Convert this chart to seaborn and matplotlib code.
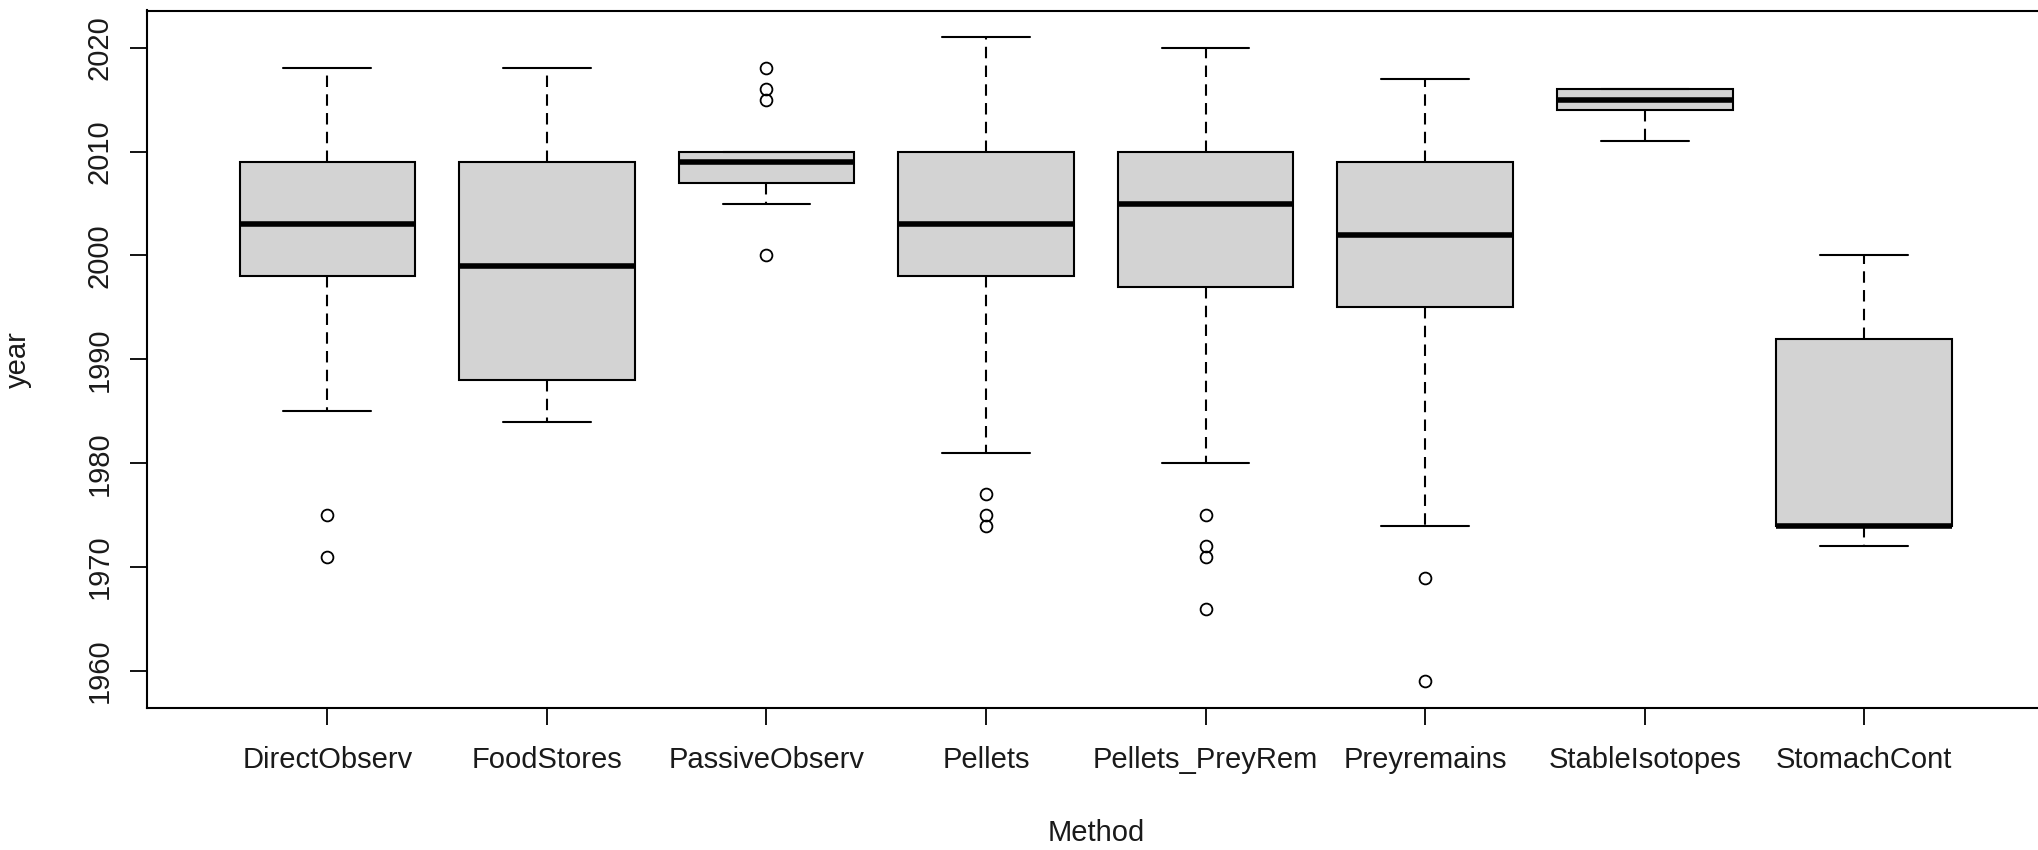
import numpy as np
import pandas as pd
import matplotlib
matplotlib.use("Agg")
import matplotlib.pyplot as plt
import seaborn as sns

# Five-number summaries (years) per diet-study method, plus the points beyond the whiskers
methods = ["DirectObserv", "FoodStores", "PassiveObserv", "Pellets",
           "Pellets_PreyRem", "Preyremains", "StableIsotopes", "StomachCont"]
whisker_low = [1985, 1984, 2005, 1981, 1980, 1974, 2011, 1972]
lower_quartile = [1998, 1988, 2007, 1998, 1997, 1995, 2014, 1974]
median_year = [2003, 1999, 2009, 2003, 2005, 2002, 2015, 1974]
upper_quartile = [2009, 2009, 2010, 2010, 2010, 2009, 2016, 1992]
whisker_high = [2018, 2018, 2010, 2021, 2020, 2017, 2016, 2000]
outliers = [[1971, 1975], [], [2000, 2015, 2016, 2018], [1974, 1975, 1977],
            [1966, 1971, 1972, 1975], [1959, 1969], [], []]
y_ticks = [1960, 1970, 1980, 1990, 2000, 2010, 2020]


def years_for(lo, q1, med, q3, hi, extra):
    """Expand a five-number summary into a sample whose quartiles,
    whiskers and outliers are exactly these values (n = 4m + 1)."""
    below = sorted(v for v in extra if v < q1)
    above = sorted(v for v in extra if v > q3)
    m = max(len(below), len(above)) + 1
    vals = below + [lo] + [q1] * (m - len(below))
    vals += [med] * (m - 1) + [med] + [med] * (m - 1)
    vals += [q3] + [q3] * (m - len(above) - 1) + [hi] + above
    return vals


rows = []
for i, name in enumerate(methods):
    for v in years_for(whisker_low[i], lower_quartile[i], median_year[i],
                       upper_quartile[i], whisker_high[i], outliers[i]):
        rows.append({"Method": name, "year": v})
df = pd.DataFrame(rows)

sns.set_style("ticks")
plt.rcParams["font.family"] = ["Liberation Sans", "DejaVu Sans"]

W, H = 2038, 850
fig = plt.figure(figsize=(W / 100, H / 100), dpi=100)
left, right, top, bottom = 147.3, 2044.3, 10.5, 708.0
ax = fig.add_axes([left / W, (H - bottom) / H, (right - left) / W, (bottom - top) / H])

sns.boxplot(
    data=df, x="Method", y="year", order=methods, ax=ax,
    color="#d3d3d3", saturation=1, linecolor="black", linewidth=1.5,
    width=0.8, whis=1.5,
    medianprops=dict(color="black", linewidth=4.0, solid_capstyle="butt"),
    whiskerprops=dict(color="black", linewidth=1.5, linestyle=(0, (5.5, 3.5))),
    capprops=dict(color="black", linewidth=1.5),
    boxprops=dict(edgecolor="black", linewidth=1.5),
    flierprops=dict(marker="o", markerfacecolor="none", markeredgecolor="black",
                    markersize=8.5, markeredgewidth=1.3),
)

ax.set_xlim(-0.82, 7.82)
ax.set_ylim(1956.44, 2023.58)
ax.set_yticks(y_ticks)
ax.set_yticklabels([str(t) for t in y_ticks], rotation=90, va="center")

for s in ax.spines.values():
    s.set_visible(True)
    s.set_color("black")
    s.set_linewidth(1.5)

ax.tick_params(axis="both", length=12.2, width=1.3, color="black",
               labelsize=21, labelcolor="#1a1a1a")
ax.tick_params(axis="y", pad=12)
ax.tick_params(axis="x", pad=15)

ax.set_xlabel("Method", fontsize=21, color="#1a1a1a")
ax.set_ylabel("year", fontsize=21, color="#1a1a1a")
ax.xaxis.set_label_coords(0.5, -0.159)
ax.yaxis.set_label_coords(-0.061, 0.5)

fig.savefig("out.png", dpi=100)
